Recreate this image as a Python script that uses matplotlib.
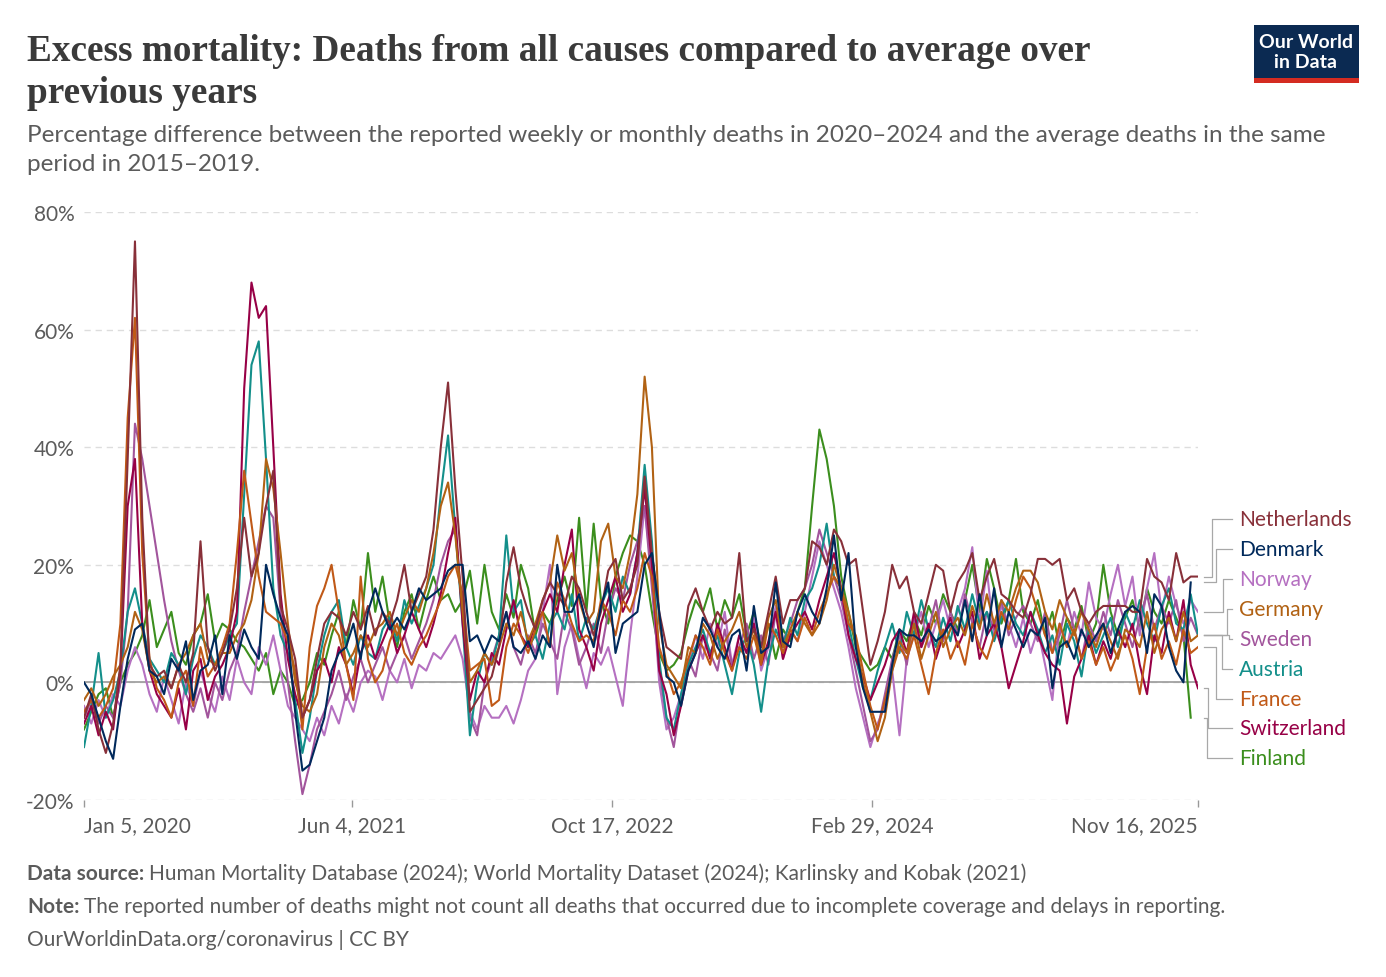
import numpy as np
import pandas as pd
import matplotlib
matplotlib.use("Agg")
import matplotlib.pyplot as plt
from matplotlib.lines import Line2D
from matplotlib.transforms import Affine2D, IdentityTransform

W, H = 1386, 978

# biweekly points, Jan 5 2020 .. Nov 16 2025
dates = pd.date_range("2020-01-05", periods=154, freq="14D")
nan = np.nan

netherlands = [
    -6, -2, -8, -12, -7, 3, 38, 75, 28, 3,
    1, 2, -1, 3, 0, 5, 24, 6, 2, 5,
    9, 16, 28, 18, 22, 30, 36, 13, 9, 4,
    -6, -3, 4, 10, 12, 11, 8, 12, 9, 13,
    8, 12, 10, 14, 20, 12, 15, 18, 26, 40,
    51, 33, 18, -5, -3, -1, 1, 6, 17, 23,
    16, 12, 9, 14, 17, 15, 13, 18, 16, 12,
    8, 12, 19, 21, 14, 16, 20, 35, 22, 12,
    6, 5, 4, 13, 16, 12, 9, 12, 10, 11,
    22, 7, 9, 6, 12, 18, 10, 14, 14, 16,
    24, 23, 20, 26, 24, 20, 21, 12, 3, 7,
    12, 20, 16, 18, 12, 10, 15, 20, 19, 12,
    17, 19, 22, 14, 18, 21, 15, 14, 12, 11,
    15, 21, 21, 20, 21, 14, 16, 12, 10, 12,
    13, 13, 13, 13, 12, 12, 21, 18, 17, 14,
    22, 17, 18, 18]

denmark = [
    0, -2, -6, -10, -13, -4, 4, 9, 10, 2,
    1, -2, 4, 2, 7, -3, 2, 3, 8, -2,
    8, 4, 9, 6, 4, 20, 15, 11, 8, -5,
    -15, -14, -10, -6, 2, 5, 6, 10, 4, 12,
    16, 12, 9, 11, 9, 12, 16, 14, 15, 16,
    19, 20, 20, 7, 8, 5, 8, 7, 12, 6,
    5, 7, 4, 8, 6, 20, 12, 12, 15, 10,
    6, 13, 17, 5, 10, 11, 12, 20, 22, 12,
    1, 0, -4, 2, 5, 11, 9, 6, 4, 8,
    9, 2, 13, 5, 6, 17, 7, 6, 12, 15,
    12, 10, 16, 25, 14, 22, 6, -1, -5, -5,
    -5, 3, 9, 8, 8, 7, 9, 7, 8, 10,
    8, 14, 7, 15, 8, 16, 6, 12, 9, 6,
    9, 8, 11, -1, 6, 7, 4, 9, 6, 8,
    10, 5, 9, 12, 13, 12, 5, 15, 13, 6,
    2, 0, 17, nan]

norway = [
    -4, -7, -3, -6, -2, -4, 2, 6, 3, -2,
    -5, 1, -3, -7, 0, -4, 2, -2, -5, 1,
    -3, 4, 0, -2, 6, 3, 8, 2, -4, -6,
    -8, -10, -6, -9, -4, -7, -2, -5, 0, 2,
    1, -3, 2, 0, 4, -1, 3, 2, 5, 4,
    6, 8, 4, -5, -8, -4, -6, -6, -4, -7,
    -3, 2, 4, 12, 20, -2, 6, 10, 4, -1,
    5, 3, 6, 1, -4, 8, 18, 30, 18, 0,
    -8, -6, -2, 3, 8, 4, 10, 6, 12, 3,
    8, 5, 11, 2, 6, 13, 4, 9, 7, 12,
    18, 24, 20, 16, 12, 6, -1, -6, -11, -7,
    -4, 2, -9, 4, 8, 12, 6, 10, 14, 9,
    12, 16, 23, 10, 19, 8, 13, 10, 6, 11,
    5, 9, 3, -3, 10, 6, 12, 8, 17, 11,
    9, 15, 20, 13, 18, 8, 16, 22, 12, 18,
    13, 10, 14, 12]

germany = [
    -3, -1, -4, -2, 1, 3, 6, 12, 9, 2,
    0, 1, -1, 3, 5, 8, 10, 4, 3, 5,
    5, 8, 10, 14, 22, 38, 33, 22, 10, 0,
    -4, -5, -2, 6, 10, 8, 3, 5, 8, 6,
    9, 10, 12, 8, 11, 14, 12, 16, 22, 30,
    34, 25, 12, 0, 2, 5, 3, 6, 10, 8,
    12, 7, 10, 14, 17, 25, 19, 22, 14, 10,
    12, 24, 27, 18, 16, 22, 32, 52, 40, 10,
    3, 1, -1, 6, 5, 10, 8, 4, 7, 9,
    12, 6, 9, 4, 11, 14, 6, 9, 12, 10,
    8, 10, 14, 20, 16, 12, 7, 0, -5, -10,
    -6, 2, 7, 5, 10, 4, 8, 12, 6, 9,
    11, 8, 13, 9, 15, 10, 14, 12, 16, 19,
    19, 17, 12, 9, 14, 11, 8, 12, 9, 6,
    10, 7, 4, 9, 8, 6, 12, 5, 9, 11,
    7, 12, 7, 8]

sweden = [
    -6, -3, -7, -4, -6, 0, 12, 44, 38, 30,
    22, 14, 7, 2, -2, -5, -1, -6, 0, -3,
    2, 5, 12, 18, 24, 30, 28, 12, 0, -10,
    -19, -14, -8, -5, -2, 2, -3, 1, 4, 0,
    3, 6, 2, 5, 8, 4, 7, 10, 14, 20,
    24, 26, 12, -6, -9, 0, 4, 8, 12, 6,
    3, 8, 5, 10, 7, 4, 12, 9, 3, 6,
    10, 5, 12, 16, 14, 20, 24, 30, 16, 2,
    -6, -11, -3, 4, 1, 8, 5, 2, 9, 3,
    6, 10, 4, 8, 3, 12, 7, 10, 14, 16,
    20, 26, 22, 18, 14, 8, 2, -4, -10, -8,
    -2, 4, 8, 3, 11, 6, 9, 14, 7, 12,
    8, 15, 10, 6, 12, 9, 14, 8, 11, 13,
    10, 7, 12, 5, 8, 14, 9, 4, 10, 7,
    12, 8, 14, 10, 6, 11, 15, 9, 13, 10,
    14, 7, 11, 8]

austria = [
    -11, -4, 5, -6, -3, 2, 12, 16, 10, 4,
    2, 0, 5, 3, -2, 4, 8, 6, 3, 5,
    8, 10, 32, 54, 58, 38, 16, 8, 5, -3,
    -12, -6, 2, 8, 12, 14, 6, 3, 8, 5,
    4, 9, 11, 7, 14, 10, 13, 16, 20, 32,
    42, 26, 10, -9, 0, 5, 3, 8, 25, 12,
    14, 6, 8, 4, 10, 12, 9, 15, 7, 11,
    9, 13, 16, 12, 18, 15, 22, 37, 24, 4,
    -6, -8, -2, 3, 6, 9, 5, 8, 3, -2,
    5, 8, 3, -5, 4, 9, 6, 11, 8, 14,
    16, 20, 27, 18, 16, 10, 4, -1, -3, 2,
    6, 10, 5, 12, 8, 14, 9, 6, 11, 7,
    13, 9, 15, 10, 12, 7, 11, 14, 10, 8,
    12, 9, 5, 8, 3, 10, 7, 1, 9, 5,
    8, 11, 6, 12, 9, 14, 10, 7, 13, 16,
    10, 9, 15, 8]

france = [
    -5, -3, -6, -4, -1, 10, 45, 62, 22, 4,
    -1, -3, -6, 0, 2, -4, 6, 1, 3, 6,
    10, 22, 36, 27, 18, 12, 11, 10, 7, 2,
    -8, 6, 13, 16, 20, 12, 3, -3, 18, 4,
    0, 2, 7, 10, 5, 3, 6, 8, 11, 14,
    18, 20, 15, 2, 3, 4, -4, -3, 6, 10,
    8, 5, 9, 12, 6, 17, 14, 10, 7, 8,
    7, 14, 12, 8, 14, 12, 16, 22, 18, 6,
    2, -2, 0, 4, 8, 6, 3, 9, 5, 2,
    6, 4, 8, 3, 10, 8, 5, 9, 7, 11,
    8, 12, 15, 18, 16, 10, 8, 2, -4, -8,
    -3, 2, 6, 4, 8, 3, -2, 5, 9, 4,
    7, 3, 10, 6, 4, 8, 12, 9, 14, 18,
    16, 12, 8, 5, 10, 6, 9, 4, 7, 3,
    6, 2, 5, 8, 4, -2, 6, 10, 4, 7,
    3, 9, 5, 6]

switzerland = [
    -7, -4, -9, -5, -8, 2, 30, 38, 10, 2,
    -2, -4, -6, -1, -8, 2, 4, -3, 1, 3,
    6, 12, 50, 68, 62, 64, 40, 15, 4, -2,
    -6, -3, 2, 4, 0, 6, 3, -2, 5, 8,
    4, 7, 10, 5, 8, 12, 9, 6, 10, 15,
    22, 28, 10, -3, 2, 0, 5, 3, 9, 14,
    8, 6, 10, 12, 15, 12, 20, 26, 9, 6,
    2, 10, 14, 18, 12, 15, 22, 33, 20, 2,
    -2, -9, -4, 2, 5, 8, 4, 10, 6, 2,
    8, 5, 10, 3, 7, 12, 4, 8, 10, 12,
    9, 14, 18, 22, 16, 8, 4, 1, -3, 0,
    3, 7, 9, 5, 12, 6, 10, 4, 8, 11,
    6, 9, 12, 4, 8, 10, 6, -1, 3, 7,
    12, 8, 5, 3, 2, -7, 1, 4, 8, 3,
    7, 4, 9, 6, 10, 3, -2, 8, 5, 12,
    7, 14, 3, -1]

finland = [
    -8, -5, -2, -1, -6, 0, 3, 5, 8, 14,
    6, 9, 12, 5, 3, 8, 10, 15, 7, 10,
    9, 7, 6, 4, 2, 5, -2, 2, 0, -4,
    -3, 0, 5, 3, 8, 12, 6, 14, 9, 22,
    12, 18, 10, 6, 12, 15, 9, 14, 18, 14,
    15, 12, 14, 19, 10, 20, 12, 9, 15, 11,
    20, 16, 8, 12, 10, 14, 18, 13, 28, 12,
    27, 14, 10, 18, 22, 25, 24, 20, 12, 5,
    2, 3, 5, 10, 14, 12, 16, 9, 14, 11,
    15, 8, 12, 6, 10, 4, 9, 7, 12, 16,
    30, 43, 38, 30, 18, 12, 6, 4, 2, 3,
    6, 4, 9, 7, 11, 8, 13, 10, 15, 12,
    9, 14, 20, 12, 21, 16, 10, 14, 21, 12,
    10, 14, 8, 12, 6, 11, 9, 13, 7, 10,
    20, 12, 8, 11, 14, 9, 16, 12, 10, 14,
    11, 8, -6, nan]

countries = ["Netherlands", "Denmark", "Norway", "Germany", "Sweden",
             "Austria", "France", "Switzerland", "Finland"]
values = [netherlands, denmark, norway, germany, sweden,
          austria, france, switzerland, finland]
colors = ["#883039", "#00295B", "#B570C1", "#B16214", "#A2559C",
          "#138F8A", "#C05917", "#970046", "#3B8E1D"]
zorders = [8, 9, 3, 7, 4, 5, 6, 5, 2]

xtick_dates = pd.to_datetime(["2020-01-05", "2021-06-04", "2022-10-17",
                              "2024-02-29", "2025-11-16"])
xtick_labels = ["Jan 5, 2020", "Jun 4, 2021", "Oct 17, 2022",
                "Feb 29, 2024", "Nov 16, 2025"]
yticks = [-20, 0, 20, 40, 60, 80]

GREY = "#5b5b5b"
FONT = "Lato"

fig = plt.figure(figsize=(W / 100, H / 100), dpi=100)
ax = fig.add_axes([84 / W, 1 - 801 / H, (1198 - 84) / W, (801 - 213) / H])

for name, vals, col, z in zip(countries, values, colors, zorders):
    ax.plot(dates, vals, color=col, lw=1.5, zorder=z, solid_joinstyle="round")

ax.set_xlim(dates[0], dates[-1])
ax.set_ylim(-20, 80)
ax.set_yticks(yticks)
ax.set_yticklabels([f"{t}%" for t in yticks], family=FONT)
ax.set_xticks(xtick_dates)
ax.set_xticklabels(xtick_labels, family=FONT)
ax.tick_params(axis="y", length=0, pad=7, labelsize=15, labelcolor=GREY)
ax.tick_params(axis="x", length=5, width=1, color="#999999", pad=6,
               labelsize=15, labelcolor=GREY)
xl = ax.get_xticklabels()
xl[0].set_ha("left")
xl[-1].set_ha("right")
ax.grid(axis="y", color="#dddddd", lw=1, linestyle=(0, (4.5, 3.5)))
ax.axhline(0, color="#9a9a9a", lw=1.2, zorder=1.8)
for s in ax.spines.values():
    s.set_visible(False)
ax.set_facecolor("none")

# end labels with elbow connectors (pixel layout)
label_rows = [520, 550, 580, 610, 640, 670, 700, 729, 759]
elbow_x = [1212, 1216, 1223, 1227, 1229, 1222, 1216, 1208, 1207]
pix = Affine2D().scale(1, -1).translate(0, H)
for name, vals, col, ly, ex in zip(countries, values, colors, label_rows, elbow_x):
    arr = np.array(vals, dtype=float)
    i = np.where(~np.isnan(arr))[0][-1]
    yd = ax.transData.transform((matplotlib.dates.date2num(dates[i]), arr[i]))[1]
    ye = H - yd
    fig.add_artist(Line2D([1204, ex, ex, 1232], [ye, ye, ly, ly], color="#a8a8a8",
                          lw=0.9, transform=pix + IdentityTransform()))
    fig.text(1239 / W, 1 - ly / H, name, color=col, fontsize=15, family=FONT,
             va="center", ha="left")

# title and subtitle, one text per line
title_lines = ["Excess mortality: Deaths from all causes compared to average over",
               "previous years"]
for line, base in zip(title_lines, [61, 103]):
    fig.text(27 / W, 1 - base / H, line, fontsize=26.8, fontweight="bold",
             family="Liberation Serif", color="#3a3a3a", va="baseline")
sub_lines = ["Percentage difference between the reported weekly or monthly deaths in 2020\u20132024 and the average deaths in the same",
             "period in 2015\u20132019."]
for line, base in zip(sub_lines, [142, 171]):
    fig.text(27 / W, 1 - base / H, line, fontsize=17.5, family=FONT, color=GREY,
             va="baseline")

# logo
fig.add_artist(plt.Rectangle((1254 / W, 1 - 84 / H), 105 / W, 58 / H,
                             transform=fig.transFigure, color="#0b2a52", lw=0))
fig.add_artist(plt.Rectangle((1254 / W, 1 - 84 / H), 105 / W, 5 / H,
                             transform=fig.transFigure, color="#d42b21", lw=0))
fig.text(1306 / W, 1 - 43 / H, "Our World", color="white", fontsize=14,
         fontweight="bold", family=FONT, ha="center", va="center")
fig.text(1306 / W, 1 - 62 / H, "in Data", color="white", fontsize=14,
         fontweight="bold", family=FONT, ha="center", va="center")

# footer
r = fig.canvas.get_renderer()
def two_part(y, bold, rest):
    t = fig.text(27 / W, 1 - y / H, bold, fontsize=15, fontweight="bold",
                 family=FONT, color=GREY, va="center")
    bb = t.get_window_extent(r)
    fig.text((bb.x1 + 5) / W, 1 - y / H, rest, fontsize=15, family=FONT,
             color=GREY, va="center")

two_part(874, "Data source:",
         "Human Mortality Database (2024); World Mortality Dataset (2024); Karlinsky and Kobak (2021)")
two_part(907, "Note:",
         "The reported number of deaths might not count all deaths that occurred due to incomplete coverage and delays in reporting.")
fig.text(27 / W, 1 - 940 / H, "OurWorldinData.org/coronavirus | CC BY", fontsize=15,
         family=FONT, color=GREY, va="center")

fig.savefig("out.png", dpi=100, facecolor="white")
